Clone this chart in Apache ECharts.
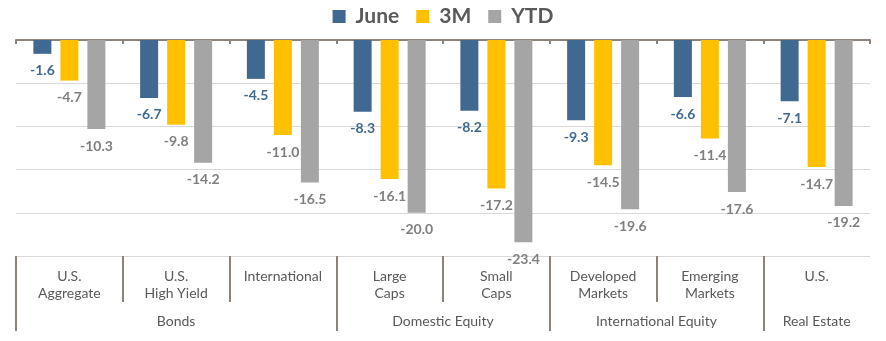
<!DOCTYPE html>
<html>
<head>
<meta charset="utf-8">
<script src="https://cdn.jsdelivr.net/npm/echarts@6/dist/echarts.min.js"></script>
<style>
html,body{margin:0;padding:0;background:#fff;}
#chart{width:886px;height:341px;}
</style>
</head>
<body>
<div id="chart"></div>
<script>
var categories = ["U.S.\nAggregate", "U.S.\nHigh Yield", "International", "Large\nCaps", "Small\nCaps", "Developed\nMarkets", "Emerging\nMarkets", "U.S."];
var groups = ["Bonds", "Domestic Equity", "International Equity", "Real Estate"];
var groupCenters = [1.5, 4, 6, 7.5];
var groupBounds = [0, 3, 5, 7];
var june = [-1.6, -6.7, -4.5, -8.3, -8.2, -9.3, -6.6, -7.1];
var threeM = [-4.7, -9.8, -11.0, -16.1, -17.2, -14.5, -11.4, -14.7];
var ytd = [-10.3, -14.2, -16.5, -20.0, -23.4, -19.6, -17.6, -19.2];

var FONT = 'Lato';
var SEP = '#8C8279';
var chart = echarts.init(document.getElementById('chart'));

function lbl(color) {
  return {
    show: true, position: 'bottom', distance: 10,
    fontFamily: FONT, fontSize: 14, fontWeight: 'bold', color: color,
    formatter: function (p) { return p.value.toFixed(1); }
  };
}

var subCenters = categories.map(function (c, i) { return i + 0.5; });
var subBounds = [1, 2, 4, 6];
var G = { left: 16, right: 16, top: 40, bottom: 85, containLabel: false };

chart.setOption({
  animation: false,
  textStyle: { fontFamily: FONT },
  legend: {
    top: 1, left: 'center',
    itemWidth: 13, itemHeight: 13, itemGap: 17,
    icon: 'rect',
    textStyle: { fontFamily: FONT, fontSize: 21, fontWeight: 'bold', color: '#595959', padding: [0, 0, 0, 5] },
    data: ['June', '3M', 'YTD']
  },
  grid: [G, G],
  xAxis: [
    {
      gridIndex: 0, type: 'category', data: categories, position: 'top',
      axisLine: { onZero: false, lineStyle: { color: SEP, width: 2 } },
      axisTick: { show: true, inside: true, length: 4, lineStyle: { color: SEP, width: 2 } },
      axisLabel: { show: false }, splitLine: { show: false }
    },
    {
      gridIndex: 0, type: 'value', min: 0, max: 8, position: 'bottom',
      axisLine: { show: false, onZero: false }, splitLine: { show: false },
      axisTick: { show: true, customValues: subBounds, length: 46, lineStyle: { color: SEP, width: 2 } },
      axisLabel: {
        show: true, customValues: subCenters, margin: 12,
        fontFamily: FONT, fontSize: 14, lineHeight: 17, color: '#595959',
        formatter: function (v) { return categories[Math.floor(v)]; }
      }
    },
    {
      gridIndex: 1, type: 'value', min: 0, max: 8, position: 'bottom',
      axisLine: { show: false, onZero: false }, splitLine: { show: false },
      axisTick: { show: true, customValues: groupBounds, length: 75, lineStyle: { color: SEP, width: 2 } },
      axisLabel: {
        show: true, customValues: groupCenters, margin: 57,
        fontFamily: FONT, fontSize: 14, lineHeight: 17, color: '#595959',
        formatter: function (v) { return groups[groupCenters.indexOf(v)]; }
      }
    }
  ],
  yAxis: [
    {
      gridIndex: 0, type: 'value', min: -25, max: 0, interval: 5,
      axisLabel: { show: false }, axisLine: { show: false }, axisTick: { show: false },
      splitLine: { show: true, lineStyle: { color: '#D9D9D9', width: 1 } }
    },
    {
      gridIndex: 1, type: 'value', min: -25, max: 0, interval: 5,
      axisLabel: { show: false }, axisLine: { show: false }, axisTick: { show: false },
      splitLine: { show: false }
    }
  ],
  series: [
    { name: 'June', type: 'bar', xAxisIndex: 0, yAxisIndex: 0, data: june, barWidth: 18, barGap: '50%', itemStyle: { color: '#3F6990' }, label: lbl('#3F6990') },
    { name: '3M', type: 'bar', xAxisIndex: 0, yAxisIndex: 0, data: threeM, barWidth: 18, barGap: '50%', itemStyle: { color: '#FFC000' }, label: lbl('#7F7F7F') },
    { name: 'YTD', type: 'bar', xAxisIndex: 0, yAxisIndex: 0, data: ytd, barWidth: 18, barGap: '50%', itemStyle: { color: '#A5A5A5' }, label: lbl('#7F7F7F') }
  ]
});
</script>
</body>
</html>
